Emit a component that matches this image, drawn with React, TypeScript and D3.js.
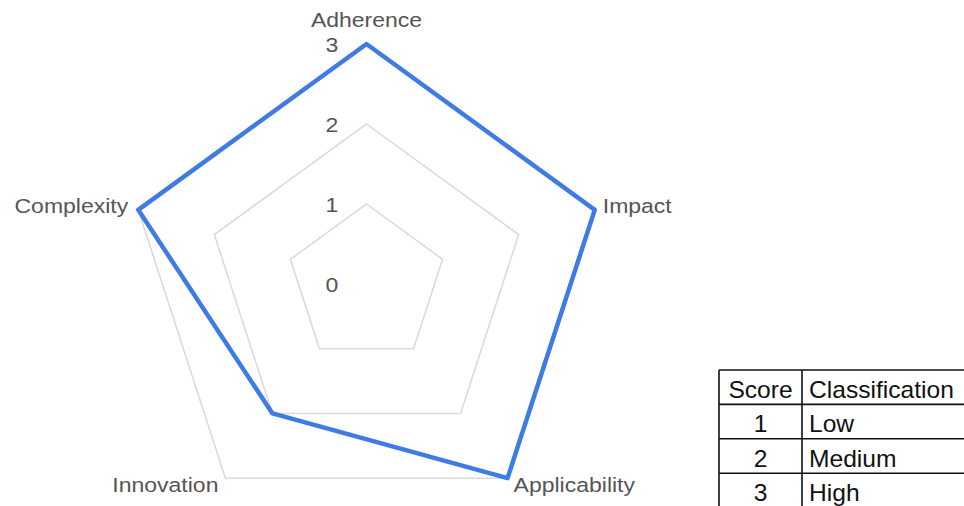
import React from "react";
import * as d3 from "d3";

const axes = ["Adherence", "Impact", "Applicability", "Innovation", "Complexity"];
const values = [3, 3, 3, 2, 3];
const levels = [1, 2, 3];
const tickLabels = ["0", "1", "2", "3"];
const tableHeader = ["Score", "Classification"];
const scores = ["1", "2", "3"];
const classes = ["Low", "Medium", "High"];

const W = 964;
const H = 506;
const cx = 366.5;
const cy = 284;
const SX = 1.18;
const TSX = 1.07;
const FONT = "'Liberation Sans', Arial, sans-serif";
const LABEL_COLOR = "#555555";

export default function App() {
  const r = d3.scaleLinear().domain([0, 3]).range([0, 240]);
  const angle = d3
    .scaleLinear()
    .domain([0, axes.length])
    .range([0, Math.PI * 2]);

  const pt = (i: number, v: number): [number, number] => {
    const a = angle(i);
    return [cx + r(v) * Math.sin(a), cy - r(v) * Math.cos(a)];
  };

  const closed = d3.line<[number, number]>().curve(d3.curveLinearClosed);

  const gridPaths = levels.map((lv) => closed(axes.map((_, i) => pt(i, lv))) as string);
  const valuePath = closed(values.map((v, i) => pt(i, v))) as string;

  const labelNodes = axes.map((name, i) => {
    const [vx, vy] = pt(i, 3);
    const a = angle(i);
    const s = Math.sin(a);
    const c = Math.cos(a);
    let x = vx;
    let y = vy;
    let anchor: "start" | "middle" | "end" = "middle";
    if (Math.abs(s) < 0.2) {
      anchor = "middle";
      y = vy - 17;
    } else if (c < -0.5) {
      anchor = s > 0 ? "start" : "end";
      x = vx + (s > 0 ? 6 : -7);
      y = vy + 14;
    } else {
      anchor = s > 0 ? "start" : "end";
      x = vx + (s > 0 ? 8 : -10);
      y = vy + 3;
    }
    return (
      <text
        key={name}
        transform={`translate(${x},${y}) scale(${SX},1)`}
        textAnchor={anchor}
        fontFamily={FONT}
        fontSize={19.5}
        fill={LABEL_COLOR}
      >
        {name}
      </text>
    );
  });

  const tickNodes = tickLabels.map((t, i) => (
    <text
      key={t}
      transform={`translate(332,${cy - r(i) + 1}) scale(${SX},1)`}
      textAnchor="middle"
      dy="0.36em"
      fontFamily={FONT}
      fontSize={19.5}
      fill={LABEL_COLOR}
    >
      {t}
    </text>
  ));

  // table
  const tx = 719;
  const ty = 370;
  const rowH = 34.4;
  const col1 = 83;
  const tableW = 300;
  const nRows = scores.length + 1;
  const rowLines = d3.range(nRows + 1).map((k) => ty + k * rowH);

  const cellText = (key: string, x: number, y: number, anchor: "start" | "middle", txt: string) => (
    <text
      key={key}
      transform={`translate(${x},${y}) scale(${TSX},1)`}
      textAnchor={anchor}
      fontFamily={FONT}
      fontSize={23}
      fill="#111"
    >
      {txt}
    </text>
  );

  return (
    <svg
      width={W}
      height={H}
      style={{ position: "absolute", left: 0, top: 0, background: "#fff" }}
    >
      <rect x={0} y={0} width={W} height={H} fill="#fff" />
      {gridPaths.map((d, i) => (
        <path key={i} d={d} fill="none" stroke="#d9d9d9" strokeWidth={1.5} />
      ))}
      <path
        d={valuePath}
        fill="none"
        stroke="#3e7be4"
        strokeWidth={4.5}
        strokeLinejoin="round"
      />
      {tickNodes}
      {labelNodes}

      <g>
        {rowLines.map((y, k) => (
          <line key={k} x1={tx} x2={tx + tableW} y1={y} y2={y} stroke="#111" strokeWidth={1.6} />
        ))}
        <line x1={tx} x2={tx} y1={ty} y2={ty + nRows * rowH} stroke="#111" strokeWidth={1.6} />
        <line x1={tx + col1} x2={tx + col1} y1={ty} y2={ty + nRows * rowH} stroke="#111" strokeWidth={1.6} />
        {cellText("h0", tx + col1 / 2, ty + rowH - 6, "middle", tableHeader[0])}
        {cellText("h1", tx + col1 + 7, ty + rowH - 6, "start", tableHeader[1])}
        {scores.map((s, k) => (
          <g key={s}>
            {cellText("s" + k, tx + col1 / 2, ty + (k + 2) * rowH - 6.5, "middle", s)}
            {cellText("c" + k, tx + col1 + 7, ty + (k + 2) * rowH - 6.5, "start", classes[k])}
          </g>
        ))}
      </g>
    </svg>
  );
}
